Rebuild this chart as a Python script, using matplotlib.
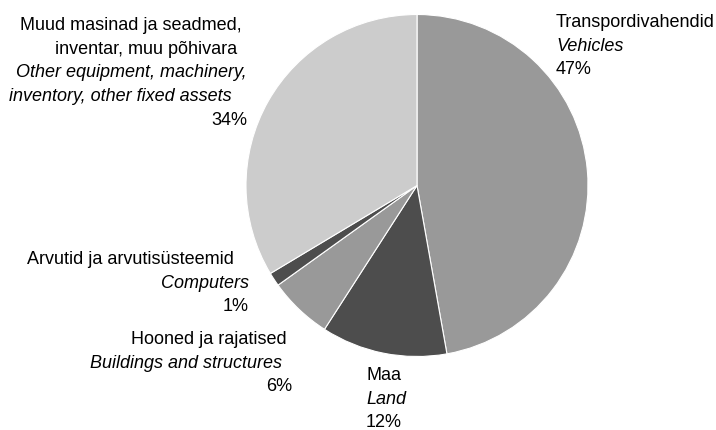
import matplotlib.pyplot as plt

# shares (clockwise from 12 o'clock)
categories_et = ['Transpordivahendid', 'Maa', 'Hooned ja rajatised ',
                 'Arvutid ja arvutisüsteemid   ',
                 'Muud masinad ja seadmed, \ninventar, muu põhivara  ']
categories_en = ['Vehicles', 'Land', 'Buildings and structures  ', 'Computers',
                 'Other equipment, machinery,\ninventory, other fixed assets   ']
shares = [47.2, 11.9, 6.0, 1.3, 33.6]
colors = ['#999999', '#4d4d4d', '#999999', '#4d4d4d', '#cccccc']

plt.rcParams['font.family'] = ['Liberation Sans', 'DejaVu Sans']

W, H = 716, 430
fig = plt.figure(figsize=(W / 100, H / 100), dpi=100)

# pie centre and radius in pixels
cx, cy, r = 417, 185.5, 171
ax = fig.add_axes([(cx - r) / W, (H - cy - r) / H, 2 * r / W, 2 * r / H])
ax.pie(shares, colors=colors, startangle=90, counterclock=False,
       wedgeprops=dict(edgecolor='white', linewidth=0.8))
ax.set_xlim(-1, 1)
ax.set_ylim(-1, 1)
ax.set_aspect('equal')
ax.axis('off')

fs = 13


def put(x, y, s, ha, style='normal'):
    fig.text(x / W, 1 - y / H, s, ha=ha, va='baseline', fontsize=fs,
             fontstyle=style)


pct = [f'{round(v):.0f}%' for v in shares]

# label anchor (x, first baseline y, alignment) per slice
anchors = [(556, 27, 'left'), (366, 380, 'left'), (292, 344, 'right'),
           (249, 264, 'right'), (247, 30, 'right')]
step = 23.7
for i, (x, y, ha) in enumerate(anchors):
    lines = [(l, 'normal') for l in categories_et[i].split('\n')]
    lines += [(l, 'italic') for l in categories_en[i].split('\n')]
    lines += [(pct[i], 'normal')]
    for k, (s, st) in enumerate(lines):
        put(x, y + k * step, s, ha, st)

fig.savefig('out.png', dpi=100)
